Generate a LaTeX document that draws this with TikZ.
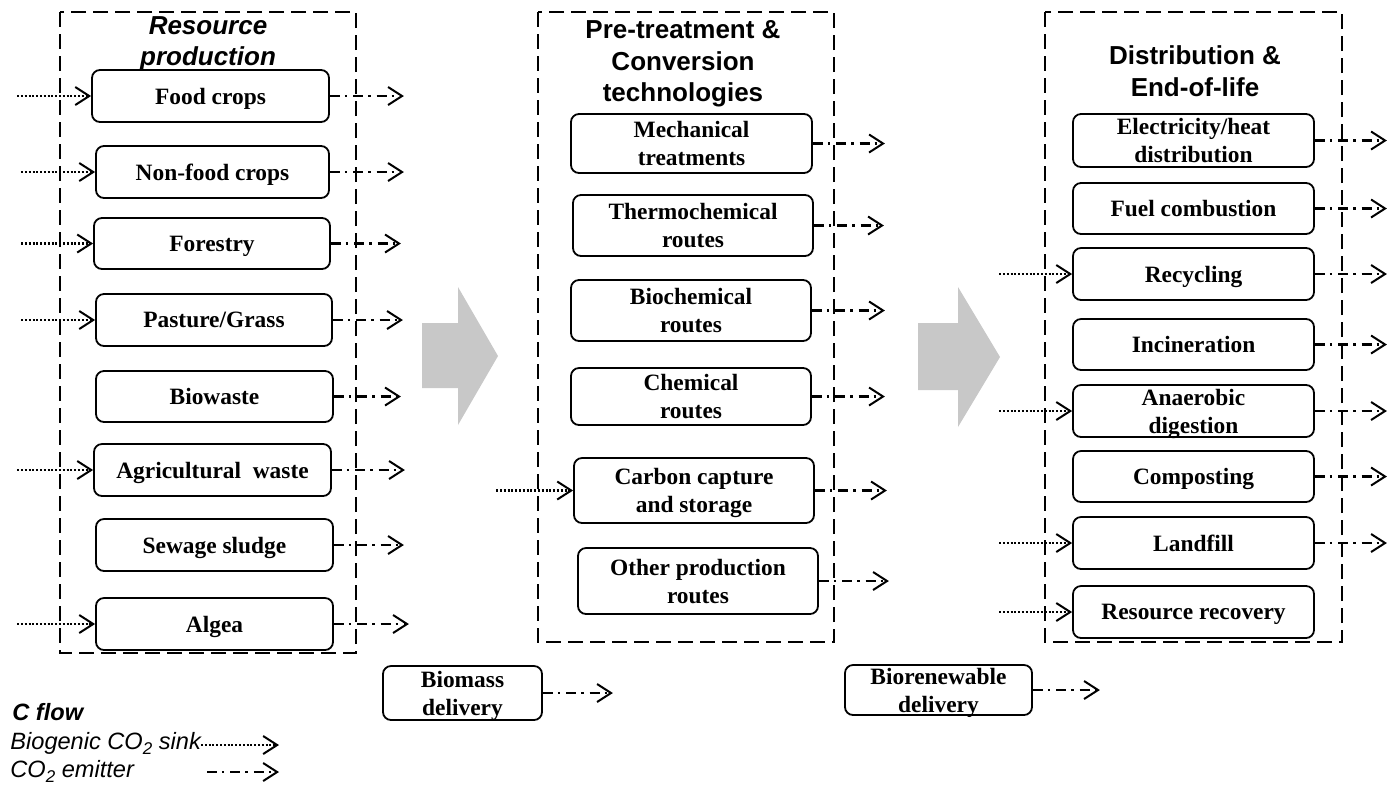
\documentclass[tikz,border=0pt]{standalone}
\usepackage{fontspec}
\setmainfont{Liberation Serif}
\newfontfamily\arial{Liberation Sans}
\usetikzlibrary{arrows.meta}
\definecolor{arrowgray}{RGB}{200,200,200}
\tikzset{
  box/.style={draw, line width=0.9pt, rounded corners=4pt, inner sep=0pt, align=center, text depth=0pt,
    font=\fontsize{11.7}{14}\selectfont\bfseries},
  frame/.style={line width=1pt, dash pattern=on 7.5pt off 3.5pt},
  sink/.style={line width=1.1pt, dash pattern=on 1pt off 0.9pt, -{Straight Barb[length=7pt,width=9pt,line width=1pt]}},
  emit/.style={line width=1.1pt, dash pattern=on 5pt off 2.5pt on 1.2pt off 3pt, -{Straight Barb[length=7pt,width=9pt,line width=1pt]}},
  ttl/.style={align=center, inner sep=0pt, font=\arial\fontsize{13}{15.8}\selectfont\bfseries},
  leg/.style={inner sep=0pt, anchor=base west, font=\arial\fontsize{11.8}{14}\selectfont\itshape},
}
\newcommand\bx[6]{%
  \pgfmathsetmacro\bw{(#4-#2)*0.5}\pgfmathsetmacro\bh{(#5-#3)*0.5}%
  \node[box, minimum width=\bw pt, minimum height=\bh pt] (#1) at ({(#2+#4)/2},{(#3+#5)/2+1}) {#6};}
% in-arrow: name, length in px
\newcommand\inar[2]{%
  \pgfmathsetmacro\al{#2*0.5}%
  \coordinate (#1-in) at ([xshift=-\al pt]#1.west);
  \draw[sink] (#1-in) -- (#1.west);}
\newcommand\outar[2]{%
  \pgfmathsetmacro\al{#2*0.5}%
  \coordinate (#1-out) at ([xshift=\al pt]#1.east);
  \draw[emit] (#1.east) -- (#1-out);}
\newcommand\subtwo{\raisebox{-0.4ex}{\fontsize{8.5}{8.5}\selectfont 2}}
\begin{document}
\begin{tikzpicture}[x=0.5pt, y=-0.5pt]
\useasboundingbox (0,0) rectangle (1396,784);

% frames
\draw[frame] (60,12) rectangle (356,653);
\draw[frame] (538,12) rectangle (834,642);
\draw[frame] (1045,12) rectangle (1342,642);

% titles
\node[ttl, font=\arial\fontsize{13}{15.5}\selectfont\bfseries\itshape] (t1) at (208,44) {Resource\\production};
\node[ttl] (t2) at (683,64) {Pre-treatment \&\\Conversion\\technologies};
\node[ttl] (t3) at (1195,71) {Distribution \&\\End-of-life};

% gray arrows
\fill[arrowgray] (422,323) -- (458,323) -- (458,287) -- (498,356) -- (458,425) -- (458,388) -- (422,388) -- cycle;
\fill[arrowgray] (918,323) -- (958,323) -- (958,287) -- (1000,357) -- (958,427) -- (958,390) -- (918,390) -- cycle;

% column 1
\bx{food}{92}{69}{329}{121}{Food crops}
\bx{nonfood}{96}{145}{329}{197}{Non-food crops}
\bx{forestry}{94}{217}{330}{268}{Forestry}
\bx{pasture}{96}{293}{332}{345}{Pasture/Grass}
\bx{biowaste}{96}{370}{333}{421}{Biowaste}
\bx{agri}{94}{443}{331}{495}{Agricultural\ \ waste}
\bx{sewage}{96}{518}{333}{570}{Sewage sludge}
\bx{algea}{96}{597}{333}{649}{Algea}

\inar{food}{74}
\inar{nonfood}{74}
\inar{forestry}{72}
\inar{pasture}{74}
\inar{agri}{76}
\inar{algea}{78}

\outar{food}{74}
\outar{nonfood}{74}
\outar{forestry}{70}
\outar{pasture}{70}
\outar{biowaste}{67}
\outar{agri}{73}
\outar{sewage}{70}
\outar{algea}{75}

% column 2
\bx{mech}{571}{113}{812}{172}{Mechanical\\treatments}
\bx{thermo}{573}{194}{813}{255}{Thermochemical\\routes}
\bx{bio}{571}{279}{811}{340}{Biochemical\\routes}
\bx{chem}{571}{367}{811}{424}{Chemical\\routes}
\bx{ccs}{574}{457}{814}{522}{Carbon capture\\and storage}
\bx{other}{578}{547}{818}{613}{Other production\\routes}

\inar{ccs}{77}
\outar{mech}{72}
\outar{thermo}{70}
\outar{bio}{73}
\outar{chem}{73}
\outar{ccs}{72}
\outar{other}{70}

% column 3
\bx{elec}{1073}{113}{1314}{166}{Electricity/heat\\distribution}
\bx{fuel}{1073}{182}{1314}{233}{Fuel combustion}
\bx{recyc}{1073}{247}{1314}{299}{Recycling}
\bx{incin}{1073}{318}{1314}{369}{Incineration}
\bx{anaer}{1073}{384}{1314}{436}{Anaerobic\\digestion}
\bx{compost}{1073}{450}{1314}{501}{Composting}
\bx{landfill}{1073}{516}{1314}{568}{Landfill}
\bx{resrec}{1073}{585}{1314}{637}{Resource recovery}

\inar{recyc}{73}
\inar{anaer}{73}
\inar{landfill}{73}
\inar{resrec}{73}

\outar{elec}{72}
\outar{fuel}{72}
\outar{recyc}{72}
\outar{incin}{72}
\outar{anaer}{72}
\outar{compost}{72}
\outar{landfill}{72}

% delivery
\bx{biomass}{383}{665}{542}{719}{Biomass\\delivery}
\bx{biorenew}{845}{664}{1032}{714}{Biorenewable\\delivery}
\outar{biomass}{70}
\outar{biorenew}{67}

% legend
\node[leg, font=\arial\fontsize{11.8}{14}\selectfont\bfseries\itshape] (cflow) at (12,720) {C flow};
\node[leg] (sinktxt) at (10,749) {Biogenic CO\subtwo\ sink};
\node[leg] (emittxt) at (10,777) {CO\subtwo\ emitter};
\coordinate (sinkA) at (201,745);
\coordinate (sinkB) at (279,745);
\coordinate (emitA) at (207,772);
\coordinate (emitB) at (279,772);
\draw[sink] (sinkA) -- (sinkB);
\draw[emit] (emitA) -- (emitB);
\end{tikzpicture}
\end{document}
